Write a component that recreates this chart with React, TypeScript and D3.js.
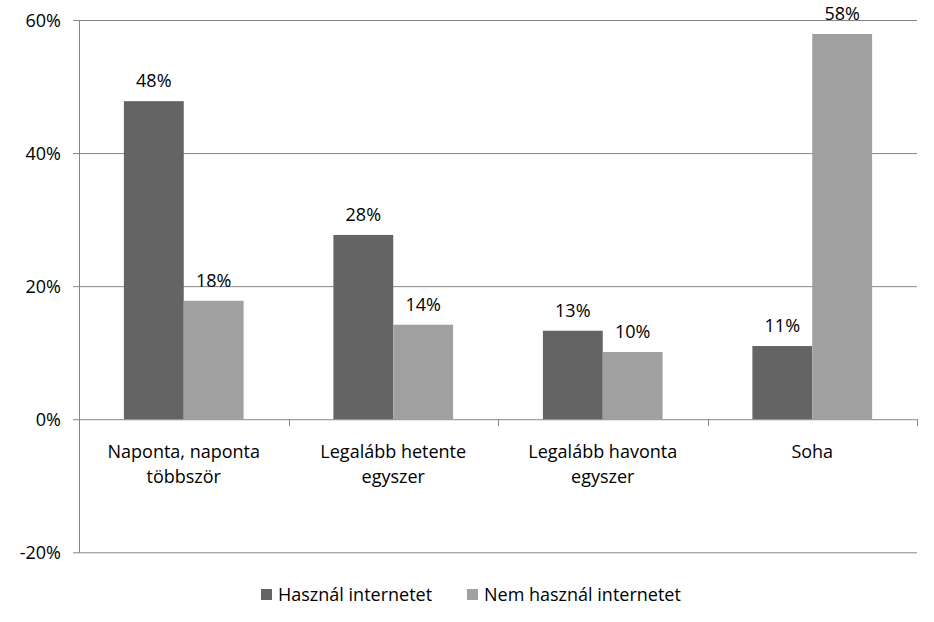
import React, { useEffect, useRef } from "react";
import * as d3 from "d3";

const categories = [
  ["Naponta, naponta", "többször"],
  ["Legalább hetente", "egyszer"],
  ["Legalább havonta", "egyszer"],
  ["Soha"],
];
const seriesNames = ["Használ internetet", "Nem használ internetet"];
const usesInternet = [47.8, 27.7, 13.3, 11.0];
const noInternet = [17.8, 14.2, 10.1, 57.9];
const yTicks = [-20, 0, 20, 40, 60];
const colors = ["#646464", "#a0a0a0"];

export default function App() {
  const svgRef = useRef<SVGSVGElement | null>(null);

  useEffect(() => {
    if (!svgRef.current) return;
    const svg = d3.select(svgRef.current);
    svg.selectAll("*").remove();

    const font = "'Open Sans', sans-serif";
    const fs = 18;
    const left = 79;
    const right = 917;
    const top = 20;
    const bottom = 552.3;

    const x = d3
      .scaleBand<number>()
      .domain(d3.range(categories.length))
      .range([left, right]);
    // gap width 150% => inner group of two bars
    const barW = x.bandwidth() / 3.5;
    const y = d3.scaleLinear().domain([-20, 60]).range([bottom, top]);

    // gridlines
    svg
      .append("g")
      .selectAll("line")
      .data(yTicks)
      .join("line")
      .attr("x1", left - 6)
      .attr("x2", right)
      .attr("y1", (d) => y(d) + 0.5)
      .attr("y2", (d) => y(d) + 0.5)
      .attr("stroke", "#868686")
      .attr("stroke-width", 1);

    // left axis
    svg
      .append("line")
      .attr("x1", left + 0.5)
      .attr("x2", left + 0.5)
      .attr("y1", top)
      .attr("y2", bottom + 0.5)
      .attr("stroke", "#868686");

    // y tick labels
    svg
      .append("g")
      .selectAll("text")
      .data(yTicks)
      .join("text")
      .attr("x", 61)
      .attr("y", (d) => y(d) + 6.5)
      .attr("text-anchor", "end")
      .attr("font-family", font)
      .attr("font-size", fs)
      .attr("fill", "#000")
      .text((d) => `${d}%`);

    // category ticks below zero line
    svg
      .append("g")
      .selectAll("line")
      .data(d3.range(1, categories.length + 1))
      .join("line")
      .attr("x1", (d) => Math.round(left + d * x.step()) + 0.5)
      .attr("x2", (d) => Math.round(left + d * x.step()) + 0.5)
      .attr("y1", y(0))
      .attr("y2", y(0) + 7)
      .attr("stroke", "#868686");

    const series = [usesInternet, noInternet];
    series.forEach((vals, si) => {
      const g = svg.append("g");
      const bx = (i: number) =>
        (x(i) as number) + x.bandwidth() / 2 - barW + si * barW;
      g.selectAll("rect")
        .data(vals)
        .join("rect")
        .attr("x", (_, i) => bx(i))
        .attr("width", barW)
        .attr("y", (d) => y(d))
        .attr("height", (d) => y(0) - y(d))
        .attr("fill", colors[si]);
      g.selectAll("text")
        .data(vals)
        .join("text")
        .attr("x", (_, i) => bx(i) + barW / 2)
        .attr("y", (d) => y(d) - 14)
        .attr("text-anchor", "middle")
        .attr("font-family", font)
        .attr("font-size", fs)
        .attr("fill", "#000")
        .text((d) => `${Math.round(d)}%`);
    });

    // category labels
    const cat = svg
      .append("g")
      .selectAll("text")
      .data(categories)
      .join("text")
      .attr("x", (_, i) => (x(i) as number) + x.bandwidth() / 2)
      .attr("y", 458)
      .attr("text-anchor", "middle")
      .attr("font-family", font)
      .attr("font-size", fs)
      .attr("fill", "#000");
    cat
      .selectAll("tspan")
      .data((d) => d)
      .join("tspan")
      .attr("x", function () {
        return (this.parentNode as SVGTextElement).getAttribute("x");
      })
      .attr("dy", (_, j) => (j === 0 ? 0 : 25))
      .text((d) => d);

    // legend
    const legendX = [261, 467];
    const lg = svg
      .append("g")
      .selectAll("g")
      .data(seriesNames)
      .join("g")
      .attr("transform", (_, i) => `translate(${legendX[i]},589)`);
    lg.append("rect")
      .attr("width", 11)
      .attr("height", 11)
      .attr("fill", (_, i) => colors[i]);
    lg.append("text")
      .attr("x", 17)
      .attr("y", 11.5)
      .attr("font-family", font)
      .attr("font-size", fs)
      .attr("fill", "#000")
      .text((d) => d);
  }, []);

  return (
    <svg
      ref={svgRef}
      width={934}
      height={622}
      style={{ position: "absolute", left: 0, top: 0, background: "#fff" }}
    ></svg>
  );
}
